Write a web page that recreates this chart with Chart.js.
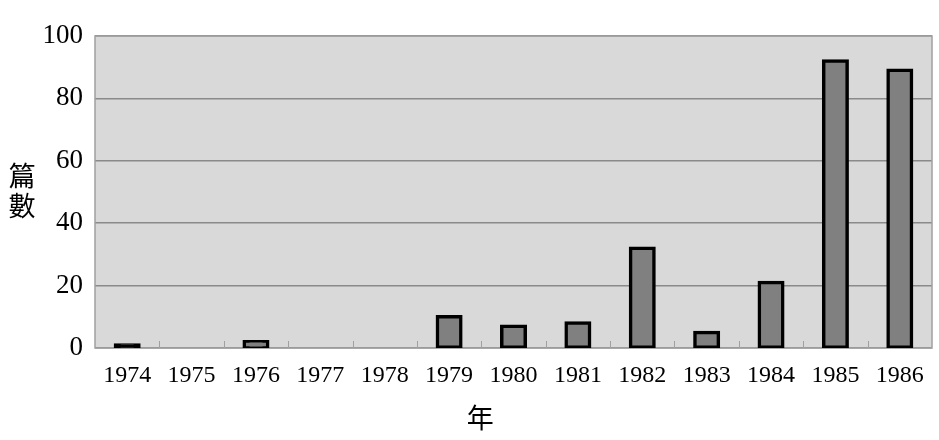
<!DOCTYPE html>
<html>
<head>
<meta charset="utf-8">
<script src="https://cdn.jsdelivr.net/npm/chart.js@4.4.1/dist/chart.umd.min.js"></script>
<style>
  html, body { margin: 0; padding: 0; background: #ffffff; }
  #wrap { width: 939px; height: 440px; position: relative; }
</style>
</head>
<body>
<div id="wrap"><canvas id="c" width="939" height="440"></canvas></div>
<script>
// ---- data ----
const years = ['1974','1975','1976','1977','1978','1979','1980','1981','1982','1983','1984','1985','1986'];
const counts = [1, 0, 2, 0, 0, 10, 7, 8, 32, 5, 21, 92, 89];
const yTicks = [0, 20, 40, 60, 80, 100];
const yTitle = ['篇', '數'];
const xTitle = '年';

const serif = "'Liberation Serif', 'Times New Roman', serif";
const cjk = "'Noto Sans CJK TC', 'Noto Sans CJK SC', sans-serif";
const BORDER = 3.5;

const decorPlugin = {
  id: 'decor',
  beforeDraw(chart) {
    const { ctx, chartArea: a } = chart;
    ctx.save();
    ctx.fillStyle = '#d9d9d9';
    ctx.fillRect(a.left, a.top, a.right - a.left, a.bottom - a.top);
    ctx.restore();
  },
  beforeDatasetsDraw(chart) {
    const { ctx, chartArea: a, scales } = chart;
    const x = scales.x;
    ctx.save();
    ctx.strokeStyle = '#a0a0a0';
    ctx.lineWidth = 1.5;
    ctx.strokeRect(a.left, a.top, a.right - a.left, a.bottom - a.top);
    ctx.lineWidth = 1;
    for (let i = 1; i < years.length; i++) {
      const px = Math.round((x.getPixelForValue(i - 1) + x.getPixelForValue(i)) / 2) + 0.5;
      ctx.beginPath();
      ctx.moveTo(px, a.bottom);
      ctx.lineTo(px, a.bottom - 7);
      ctx.stroke();
    }
    ctx.restore();
  },
  afterDraw(chart) {
    const { ctx, chartArea: a, scales } = chart;
    ctx.save();
    ctx.fillStyle = '#000';
    ctx.font = '27px ' + cjk;
    ctx.textAlign = 'center';
    ctx.textBaseline = 'middle';
    const cy = (a.top + a.bottom) / 2;
    const lh = 30;
    yTitle.forEach((ch, i) => {
      ctx.fillText(ch, 22, cy - 1 + (i - (yTitle.length - 1) / 2) * lh);
    });
    const x = scales.x;
    const tx = (x.getPixelForValue(5) + x.getPixelForValue(6)) / 2 - 1;
    ctx.fillText(xTitle, tx, 418);
    ctx.restore();
  }
};

new Chart(document.getElementById('c'), {
  type: 'bar',
  data: {
    labels: years,
    datasets: [{
      data: counts,
      backgroundColor(c) {
        const y = c.chart.scales.y;
        if (!y || c.raw == null) return '#808080';
        const h = Math.abs(y.getPixelForValue(0) - y.getPixelForValue(c.raw));
        return h < 4 ? '#000000' : '#808080';
      },
      borderColor: '#000000',
      borderWidth: BORDER,
      borderSkipped: false,
      inflateAmount: BORDER / 2,
      categoryPercentage: 1.0,
      barPercentage: 0.365
    }]
  },
  options: {
    responsive: false,
    animation: false,
    devicePixelRatio: 1,
    layout: { padding: { top: 36, right: 7, left: 0, bottom: 0 } },
    plugins: { legend: { display: false }, tooltip: { enabled: false } },
    scales: {
      x: {
        grid: { display: false, drawTicks: false },
        border: { display: false },
        ticks: {
          color: '#000',
          font: { family: serif, size: 24 },
          padding: 13,
          maxRotation: 0,
          autoSkip: false
        },
        afterFit(s) { s.height = 92; }
      },
      y: {
        min: 0,
        max: 100,
        afterBuildTicks(s) { s.ticks = yTicks.map(v => ({ value: v })); },
        grid: { color: '#8a8a8a', lineWidth: 1.5, drawTicks: false },
        border: { display: false },
        ticks: {
          color: '#000',
          font: { family: serif, size: 27 },
          padding: 12
        },
        afterFit(s) { s.width = 95; }
      }
    }
  },
  plugins: [decorPlugin]
});
</script>
</body>
</html>
